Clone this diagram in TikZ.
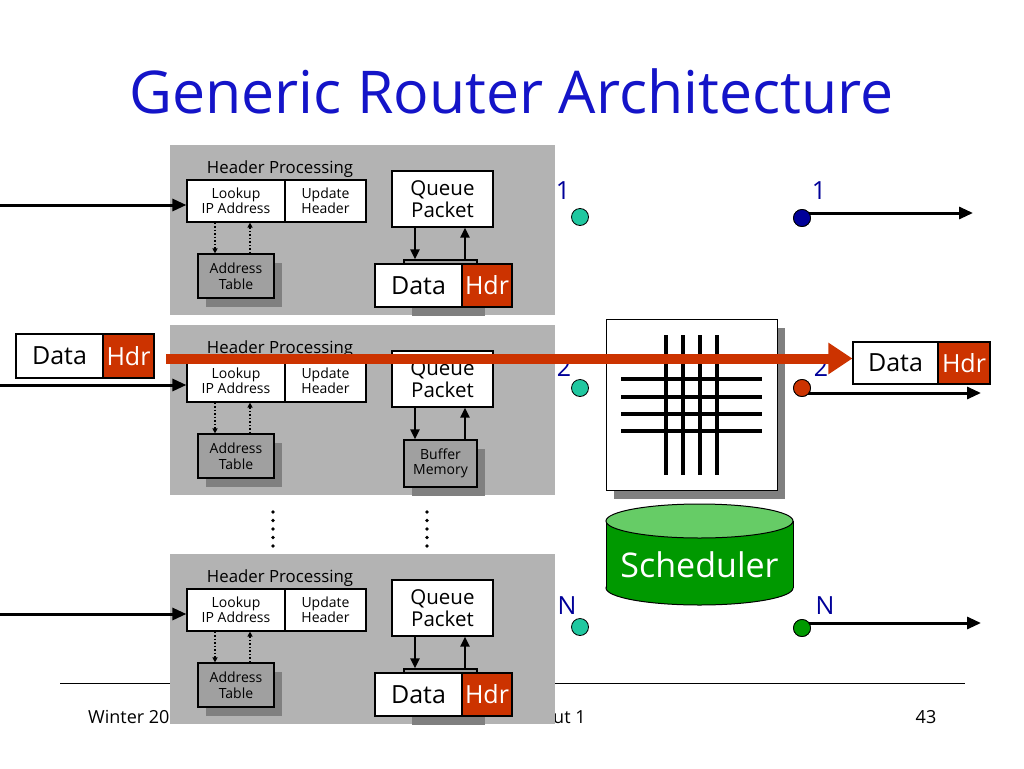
\documentclass[tikz,border=0pt]{standalone}
\usepackage{fontspec}
\setmainfont{Open Sans}
\usetikzlibrary{arrows.meta,shadows,calc}
\definecolor{blockgray}{RGB}{179,179,179}
\definecolor{boxgray}{RGB}{160,160,160}
\definecolor{shadowgray}{RGB}{128,128,128}
\definecolor{hdrred}{RGB}{204,51,0}
\definecolor{titleblue}{RGB}{20,20,200}
\definecolor{labelblue}{RGB}{0,0,153}
\definecolor{tealdot}{RGB}{32,200,160}
\definecolor{navydot}{RGB}{0,0,153}
\definecolor{greendot}{RGB}{0,153,0}
\definecolor{schedgreen}{RGB}{0,153,0}
\definecolor{schedtop}{RGB}{102,204,102}
\tikzset{
  blockbg/.style={fill=blockgray, draw=none, minimum width=385pt, minimum height=170pt, inner sep=0pt},
  whitebox/.style={draw=black, line width=1.2pt, fill=white, inner sep=0pt, align=center, font=\fontsize{14}{15}\selectfont},
  graybox/.style={draw=black, line width=1.2pt, fill=boxgray, inner sep=0pt, align=center, font=\fontsize{14}{15.5}\selectfont,
    drop shadow={shadow xshift=8pt, shadow yshift=-9pt, fill=shadowgray, opacity=1}},
  queuebox/.style={whitebox, font=\fontsize{20.5}{22}\selectfont},
  datapart/.style={draw=black, line width=1.2pt, fill=white, inner sep=0pt, font=\fontsize{25}{27}\selectfont},
  hdrpart/.style={draw=black, line width=1.2pt, fill=hdrred, text=white, inner sep=0pt, font=\fontsize{25}{27}\selectfont},
  hptext/.style={font=\fontsize{16.8}{18}\selectfont, inner sep=0pt},
  blkarrow/.style={line width=2.6pt, -{Triangle[length=10pt,width=9pt]}},
  dotarrow/.style={line width=1.5pt, dotted, -{Triangle[length=5pt,width=5pt]}},
  portarrow/.style={line width=3pt, -{Triangle[length=14pt,width=12pt]}},
  redarrow/.style={line width=10pt, draw=hdrred, -{Triangle[length=24pt,width=30pt]}},
  portdot/.style={circle, draw=black, line width=0.8pt, minimum size=17pt, inner sep=0pt},
  portlabel/.style={text=labelblue, font=\fontsize{25}{27}\selectfont, inner sep=0pt},
  footer/.style={font=\fontsize{18}{20}\selectfont, inner sep=0pt},
  ellipsisdot/.style={circle, fill=black, minimum size=3.6pt, inner sep=0pt},
}
\newcommand{\portblk}[3]{%
\begin{scope}[shift={(0,#2)}]
  \node[blockbg] (blk#1) at (362.5,230) {};
  \ifnum#3=1
    \node[graybox, minimum width=73pt, minimum height=47pt] (buf#1) at (440.5,283.5) {};
  \else
    \node[graybox, minimum width=73pt, minimum height=47pt] (buf#1) at (440.5,283.5) {Buffer\\Memory};
  \fi
  \node[graybox, minimum width=76pt, minimum height=44pt] (addr#1) at (236,276) {Address\\Table};
  \node[whitebox, minimum width=98pt, minimum height=42pt] (lookup#1) at (236,201) {Lookup\\IP Address};
  \node[whitebox, minimum width=81pt, minimum height=42pt] (update#1) at (325.5,201) {Update\\Header};
  \node[hptext] (hp#1) at (280,169) {Header Processing};
  \node[queuebox, minimum width=101pt, minimum height=56pt] (queue#1) at (442.5,199) {Queue\\Packet};
  \coordinate (la#1) at ($(lookup#1.south)+(-21,0)$);
  \coordinate (lb#1) at ($(lookup#1.south)+(14,0)$);
  \draw[dotarrow] (la#1) -- (la#1 |- addr#1.north);
  \draw[dotarrow] (lb#1 |- addr#1.north) -- (lb#1);
  \coordinate (qa#1) at ($(queue#1.south)+(-27.5,0)$);
  \coordinate (qb#1) at ($(queue#1.south)+(22.5,0)$);
  \draw[blkarrow] (qa#1) -- (qa#1 |- buf#1.north);
  \draw[blkarrow] (qb#1 |- buf#1.north) -- (qb#1);
  \coordinate (in#1) at (0,205);
  \draw[portarrow] (in#1) -- (in#1 -| lookup#1.west);
  \ifnum#3=1
    \node[datapart, minimum width=87pt, minimum height=43pt] (data#1) at (418.5,285.5) {Data};
    \node[hdrpart, minimum width=50pt, minimum height=43pt] (hdr#1) at (487,285.5) {Hdr};
  \fi
\end{scope}}
\begin{document}
\begin{tikzpicture}[x=1pt,y=-1pt]
\useasboundingbox[fill=white] (0,0) rectangle (1024,768);
% title
\node[text=titleblue, font=\fontsize{59}{64}\selectfont, inner sep=0pt] (title) at (511.5,91) {Generic Router Architecture};
% footer
\coordinate (fl) at (60,683);
\coordinate (fr) at (965,683);
\draw[line width=1pt] (fl) -- (fr);
\node[footer, anchor=west] (fw) at (88,717) {Winter 20};
\node[footer, anchor=west] (fu) at (553,717) {ut 1};
\node[footer] (fn) at (926,717) {43};
% port blocks
\portblk{1}{0}{1}
\portblk{2}{180}{0}
\portblk{3}{409}{1}
% ellipsis
\foreach \yy [count=\i] in {512,520.5,529,537.5,546} {
  \node[ellipsisdot] (ea\i) at (273,\yy) {};
  \node[ellipsisdot] (eb\i) at (427,\yy) {};
}
% crossbar
\node[draw=black, line width=1pt, fill=white, minimum width=171pt, minimum height=171pt, inner sep=0pt,
  drop shadow={shadow xshift=8pt, shadow yshift=-9pt, fill=shadowgray, opacity=1}] (xbar) at (691.5,404.5) {};
\foreach \xx in {666,683,700,717} \draw[line width=4pt] (\xx,335) -- (\xx,475);
\foreach \yy in {379,396.5,413.5,431} \draw[line width=4pt] (621,\yy) -- (762,\yy);
% scheduler
\draw[line width=1pt, fill=schedgreen] (699.5,588) ellipse [x radius=93.5, y radius=17];
\fill[schedgreen] (606,521) rectangle (793,588);
\draw[line width=1pt] (606,521) -- (606,588) (793,521) -- (793,588);
\draw[line width=1pt, fill=schedtop] (699.5,521) ellipse [x radius=93.5, y radius=17];
\node[text=white, font=\fontsize{34}{36}\selectfont, inner sep=0pt] (sched) at (699.5,565) {Scheduler};
% input ports
\node[portdot, fill=tealdot] (idot1) at (580,217) {};
\node[portdot, fill=tealdot] (idot2) at (580,388) {};
\node[portdot, fill=tealdot] (idot3) at (580,627) {};
\node[portlabel] (il1) at (563,191) {1};
\node[portlabel] (il2) at (564,367) {2};
\node[portlabel] (il3) at (567,606) {N};
% output ports
\coordinate (oe1) at (973,213);
\coordinate (oe2) at (981,393);
\coordinate (oe3) at (981,623);
\node[portdot, fill=navydot] (odot1) at (802,218) {};
\node[portdot, fill=hdrred] (odot2) at (802,388) {};
\node[portdot, fill=greendot] (odot3) at (802,628) {};
\draw[portarrow] (odot1.center |- oe1) -- (oe1);
\draw[portarrow] (odot2.center |- oe2) -- (oe2);
\draw[portarrow] (odot3.center |- oe3) -- (oe3);
\node[portdot, fill=navydot] at (odot1) {};
\node[portdot, fill=hdrred] at (odot2) {};
\node[portdot, fill=greendot] at (odot3) {};
\node[portlabel] (ol1) at (819,191) {1};
\node[portlabel] (ol2) at (821,367) {2};
\node[portlabel] (ol3) at (825,606) {N};
% packets
\node[datapart, minimum width=87pt, minimum height=44pt] (dataL) at (59.5,356) {Data};
\node[hdrpart, minimum width=51pt, minimum height=44pt] (hdrL) at (128.5,356) {Hdr};
\node[datapart, minimum width=85pt, minimum height=42pt] (dataR) at (895.5,363) {Data};
\node[hdrpart, minimum width=52pt, minimum height=42pt] (hdrR) at (964,363) {Hdr};
% red path
\coordinate (rs) at (166,358.5);
\draw[redarrow] (rs) -- (rs -| dataR.west);
\end{tikzpicture}
\end{document}
